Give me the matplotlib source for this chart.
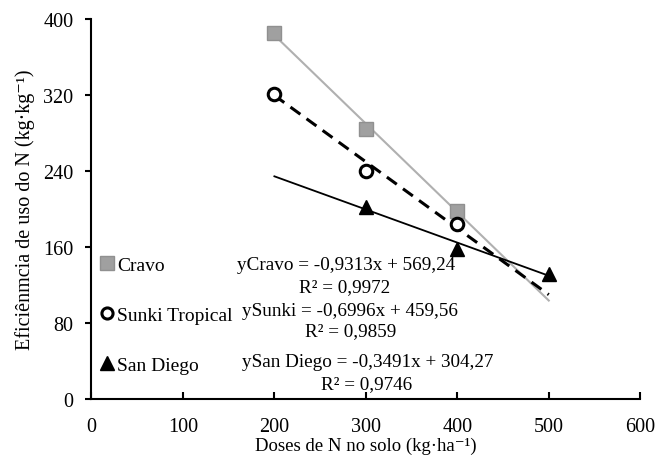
import matplotlib.pyplot as plt
from matplotlib.lines import Line2D

plt.rcParams['font.family'] = ['Liberation Serif', 'DejaVu Serif']

# observed points
x_cravo = [200, 300, 400]
y_cravo = [385, 284, 198]
x_sunki = [200, 300, 400]
y_sunki = [321, 240, 184]
x_sandiego = [300, 400, 500]
y_sandiego = [202, 158, 132]

# trendline ends (from the fitted equations)
trend_x = [200, 500]
cravo_trend = [383.0, 103.6]
sunki_trend = [319.6, 109.8]
sandiego_trend = [234.4, 129.7]

xticks = [0, 100, 200, 300, 400, 500, 600]
yticks = [0, 80, 160, 240, 320, 400]

fig = plt.figure(figsize=(6.58, 4.56), dpi=100)
ax = fig.add_axes([0.139, 0.123, 0.834, 0.833])

ax.plot(trend_x, cravo_trend, color='#b0b0b0', lw=1.5)
ax.plot(trend_x, sunki_trend, color='black', lw=2.2, ls=(0, (4, 2.5)))
ax.plot(trend_x, sandiego_trend, color='black', lw=1.3)

ax.plot(x_cravo, y_cravo, ls='none', marker='s', ms=9.5, mfc='#a0a0a0', mec='#909090')
ax.plot(x_sunki, y_sunki, ls='none', marker='o', ms=9, mfc='white', mec='black', mew=2.2)
ax.plot(x_sandiego, y_sandiego, ls='none', marker='^', ms=10.5, color='black')

ax.set_xlim(0, 600)
ax.set_ylim(0, 400)
ax.set_xticks(xticks)
ax.set_yticks(yticks)
ax.spines['top'].set_visible(False)
ax.spines['right'].set_visible(False)
ax.spines['left'].set_linewidth(1.5)
ax.spines['bottom'].set_linewidth(1.5)
ax.tick_params(axis='x', direction='in', length=5, width=1.5, labelsize=14.5, pad=13)
ax.tick_params(axis='y', direction='out', length=4, width=1.5, labelsize=14.5, pad=9)

ax.set_xlabel('Doses de N no solo (kg·ha⁻¹)', fontsize=13.5, labelpad=0.5)
ax.set_ylabel('Eficiênmcia de uso do N (kg·kg⁻¹)', fontsize=14.5, labelpad=6)

handles = [
    Line2D([], [], ls='none', marker='s', ms=9.5, mfc='#a0a0a0', mec='#909090'),
    Line2D([], [], ls='none', marker='o', ms=8, mfc='white', mec='black', mew=2.2),
    Line2D([], [], ls='none', marker='^', ms=10.5, color='black'),
]
ax.legend(handles, ['Cravo', 'Sunki Tropical', 'San Diego'], loc='upper left',
          bbox_to_anchor=(-0.004, 0.395), frameon=False, fontsize=14,
          handletextpad=0.05, handlelength=1.0, labelspacing=1.65,
          borderaxespad=0.0)

ax.text(278, 142, 'yCravo = -0,9313x + 569,24', ha='center', va='center', fontsize=13.8)
ax.text(277, 118, 'R² = 0,9972', ha='center', va='center', fontsize=13.8)
ax.text(283, 93, 'ySunki = -0,6996x + 459,56', ha='center', va='center', fontsize=13.8)
ax.text(283, 72, 'R² = 0,9859', ha='center', va='center', fontsize=13.8)
ax.text(302, 39, 'ySan Diego = -0,3491x + 304,27', ha='center', va='center', fontsize=13.8)
ax.text(301, 16, 'R² = 0,9746', ha='center', va='center', fontsize=13.8)

fig.savefig('out.png', dpi=100)
